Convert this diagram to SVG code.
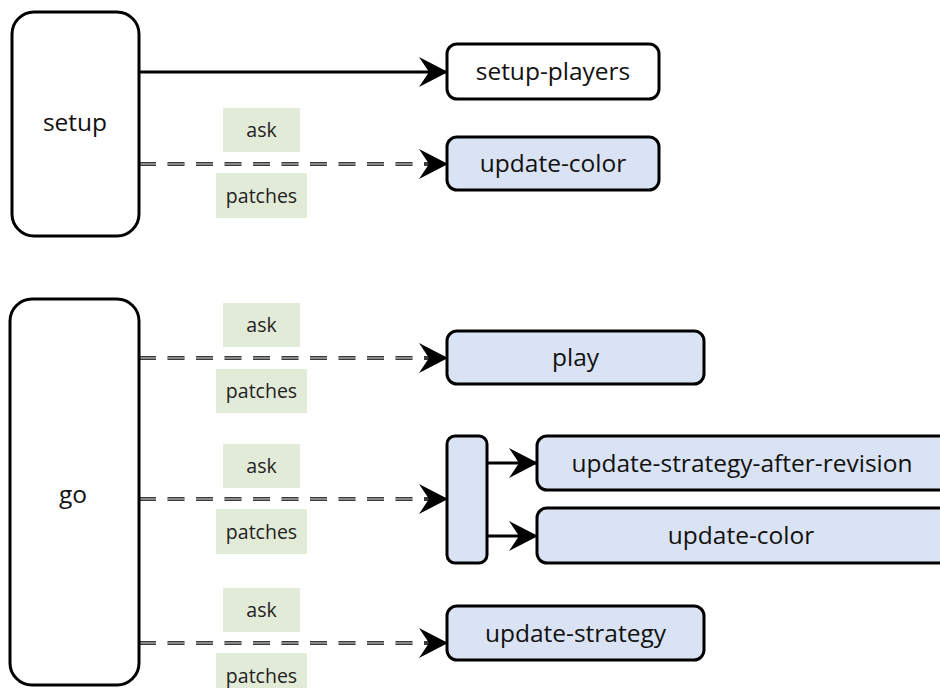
<svg xmlns="http://www.w3.org/2000/svg" width="940" height="688" viewBox="0 0 940 688">
<defs>
<marker id="ah" markerUnits="userSpaceOnUse" viewBox="0 0 29 30" refX="28" refY="15" markerWidth="29" markerHeight="30" orient="auto">
<path d="M0,0 L29,15 L0,30 L10,15 Z" fill="#000"/>
</marker>
<style>
.main{fill:#fff;stroke:#000;stroke-width:3}
.blue{fill:#dae3f3;stroke:#000;stroke-width:3}
.lbl{fill:#e2ebd8}
.t{font-family:"Open Sans","Noto Sans",sans-serif;font-size:24.5px;fill:#111;text-anchor:middle}
.lt{font-family:"Open Sans","Noto Sans",sans-serif;font-size:19.5px;fill:#222;text-anchor:middle}
.solid{stroke:#000;stroke-width:3;fill:none}
.dOut{stroke:#3a3a3a;stroke-width:4;fill:none;stroke-dasharray:17 11.5}
.dIn{stroke:#d8d8d8;stroke-width:1.2;fill:none;stroke-dasharray:17 11.5}
</style>
</defs>

<g id="connectors">
<line class="solid" x1="139" y1="72" x2="447" y2="72" marker-end="url(#ah)"/>
<line class="dOut" x1="139" y1="164" x2="447" y2="164" marker-end="url(#ah)"/>
<line class="dIn" x1="139" y1="164" x2="420" y2="164"/>
<line class="dOut" x1="139" y1="358" x2="447" y2="358" marker-end="url(#ah)"/>
<line class="dIn" x1="139" y1="358" x2="420" y2="358"/>
<line class="dOut" x1="139" y1="499" x2="447" y2="499" marker-end="url(#ah)"/>
<line class="dIn" x1="139" y1="499" x2="420" y2="499"/>
<line class="dOut" x1="139" y1="643" x2="447" y2="643" marker-end="url(#ah)"/>
<line class="dIn" x1="139" y1="643" x2="420" y2="643"/>
<line class="solid" x1="487" y1="463" x2="537" y2="463" marker-end="url(#ah)"/>
<line class="solid" x1="487" y1="536" x2="537" y2="536" marker-end="url(#ah)"/>
<g id="edge-labels">
<rect class="lbl" x="223" y="108" width="77" height="44"/>
<text class="lt" x="261.5" y="137">ask</text>
<rect class="lbl" x="216" y="173" width="91" height="45"/>
<text class="lt" x="261.5" y="203">patches</text>
<rect class="lbl" x="223" y="303" width="77" height="44"/>
<text class="lt" x="261.5" y="332">ask</text>
<rect class="lbl" x="216" y="369" width="91" height="44"/>
<text class="lt" x="261.5" y="398">patches</text>
<rect class="lbl" x="223" y="444" width="77" height="44"/>
<text class="lt" x="261.5" y="473">ask</text>
<rect class="lbl" x="216" y="509" width="91" height="45"/>
<text class="lt" x="261.5" y="539">patches</text>
<rect class="lbl" x="223" y="588" width="77" height="44"/>
<text class="lt" x="261.5" y="617">ask</text>
<rect class="lbl" x="216" y="653" width="91" height="45"/>
<text class="lt" x="261.5" y="683">patches</text>
</g>
</g>

<g id="setup">
<rect class="main" x="12" y="12" width="127" height="224" rx="22"/>
<text class="t" x="75" y="131">setup</text>
</g>
<g id="go">
<rect class="main" x="10" y="299" width="129" height="386" rx="22"/>
<text class="t" x="73" y="503">go</text>
</g>
<g id="setup-players">
<rect class="main" x="447" y="44" width="212" height="55" rx="10"/>
<text class="t" x="553" y="80">setup-players</text>
</g>
<g id="update-color-1">
<rect class="blue" x="447" y="137" width="212" height="53" rx="10"/>
<text class="t" x="553" y="172">update-color</text>
</g>
<g id="play">
<rect class="blue" x="447" y="331" width="257" height="53" rx="10"/>
<text class="t" x="575.5" y="366">play</text>
</g>
<g id="branch">
<rect class="blue" x="447" y="436" width="40" height="127" rx="8"/>
</g>
<g id="update-strategy-after-revision">
<rect class="blue" x="537" y="436" width="412" height="54" rx="10"/>
<text class="t" x="742" y="472">update-strategy-after-revision</text>
</g>
<g id="update-color-2">
<rect class="blue" x="537" y="508" width="412" height="55" rx="10"/>
<text class="t" x="741" y="544">update-color</text>
</g>
<g id="update-strategy">
<rect class="blue" x="447" y="606" width="257" height="54" rx="10"/>
<text class="t" x="575.5" y="642">update-strategy</text>
</g>
</svg>
